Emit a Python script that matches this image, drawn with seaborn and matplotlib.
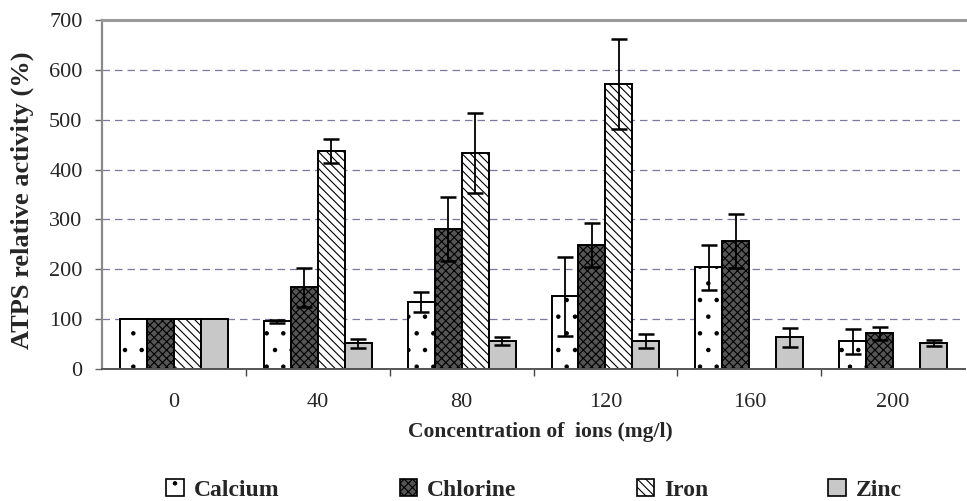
import numpy as np
import pandas as pd
import seaborn as sns
import matplotlib.pyplot as plt
from matplotlib.patches import Patch
from matplotlib.ticker import FixedLocator, NullFormatter, FixedFormatter

concentrations = ["0", "40", "80", "120", "160", "200"]
ions = ["Calcium", "Chlorine", "Iron", "Zinc"]
calcium = [100, 96, 134, 146, 204, 56]
calcium_err = [0, 3, 20, 79, 45, 25]
chlorine = [100, 164, 280, 248, 256, 72]
chlorine_err = [0, 39, 64, 44, 54, 13]
iron = [100, 438, 434, 572, np.nan, np.nan]
iron_err = [0, 24, 80, 90, np.nan, np.nan]
zinc = [100, 52, 56, 56, 64, 52]
zinc_err = [0, 9, 8, 14, 19, 6]

values = {"Calcium": calcium, "Chlorine": chlorine, "Iron": iron, "Zinc": zinc}
errors = {"Calcium": calcium_err, "Chlorine": chlorine_err, "Iron": iron_err, "Zinc": zinc_err}

rows = []
for ion in ions:
    for c, v, e in zip(concentrations, values[ion], errors[ion]):
        rows.append({"conc": c, "ion": ion, "value": v, "err": e})
df = pd.DataFrame(rows)

sns.set_style("white")
plt.rcParams["font.family"] = ["Liberation Serif", "DejaVu Serif"]
plt.rcParams["hatch.linewidth"] = 0.8

fig = plt.figure(figsize=(9.67, 5.01), dpi=100)
ax = fig.add_axes([102 / 967, 1 - 369 / 501, 1 - 102 / 967 - 0.002, (369 - 20) / 501])

styles = {
    "Calcium": dict(fc="white", hatch="."),
    "Chlorine": dict(fc="#555555", hatch="xxxx"),
    "Iron": dict(fc="white", hatch="\\\\\\\\"),
    "Zinc": dict(fc="#c8c8c8", hatch=None),
}

sns.barplot(data=df, x="conc", y="value", hue="ion", order=concentrations,
            hue_order=ions, width=0.75, errorbar=None, ax=ax, legend=False,
            edgecolor="black", linewidth=1.4)

for ion, cont in zip(ions, ax.containers):
    st = styles[ion]
    errs = [e for v, e in zip(values[ion], errors[ion]) if not np.isnan(v)]
    vals = [v for v in values[ion] if not np.isnan(v)]
    xs = []
    for p in cont.patches:
        p.set_facecolor(st["fc"])
        p.set_hatch(st["hatch"])
        p.set_edgecolor("black")
        xs.append(p.get_x() + p.get_width() / 2)
    xs = np.array(xs)
    m = np.array(errs) > 0
    ax.errorbar(xs[m], np.array(vals)[m], yerr=np.array(errs)[m], fmt="none",
                ecolor="black", elinewidth=1.3, capsize=6, capthick=1.8, zorder=5)

ax.set_ylim(0, 700)
ax.set_xlim(-0.5, 5.5)
ax.set_yticks(range(0, 701, 100))
ax.set_yticklabels([str(v) for v in range(0, 701, 100)], fontsize=16)
for yv in range(100, 700, 100):
    ax.axhline(yv, color="#7a7a9c", lw=0.9, dashes=(6, 4), zorder=0)

ax.xaxis.set_major_locator(FixedLocator([0.5, 1.5, 2.5, 3.5, 4.5]))
ax.xaxis.set_major_formatter(NullFormatter())
ax.xaxis.set_minor_locator(FixedLocator(list(range(6))))
ax.xaxis.set_minor_formatter(FixedFormatter(concentrations))
ax.tick_params(axis="x", which="major", direction="out", length=5, width=1, color="#444", bottom=True)
ax.tick_params(axis="x", which="minor", length=0, labelsize=16, pad=17)
ax.tick_params(axis="y", direction="out", length=5, width=1, color="#666", left=True, labelsize=16, pad=9)

ax.spines["right"].set_visible(False)
ax.spines["top"].set_color("#9a9a9a")
ax.spines["top"].set_linewidth(2.2)
ax.spines["left"].set_color("#8a8a8a")
ax.spines["left"].set_linewidth(1.6)
ax.spines["bottom"].set_color("#555555")
ax.spines["bottom"].set_linewidth(1.4)

ax.set_xlabel("Concentration of  ions (mg/l)", fontsize=15.5, fontweight="bold")
ax.xaxis.set_label_coords((541 - 102) / 865, (369 - 422) / 349)
ax.set_ylabel("ATPS relative activity (%)", fontsize=19, fontweight="bold")
ax.yaxis.set_label_coords((34 - 102) / 865, (369 - 200) / 349)

handles = [Patch(facecolor=styles[i]["fc"], hatch=styles[i]["hatch"], edgecolor="black",
                 linewidth=1.2, label=i) for i in ions]
fig.legend(handles=handles, loc="center", bbox_to_anchor=(534 / 967, 1 - 490 / 501),
           ncol=4, frameon=False, handlelength=0.75, handleheight=0.75, handletextpad=0.4,
           columnspacing=5.1, prop={"size": 17, "weight": "bold"})

fig.savefig("out.png", dpi=100)
